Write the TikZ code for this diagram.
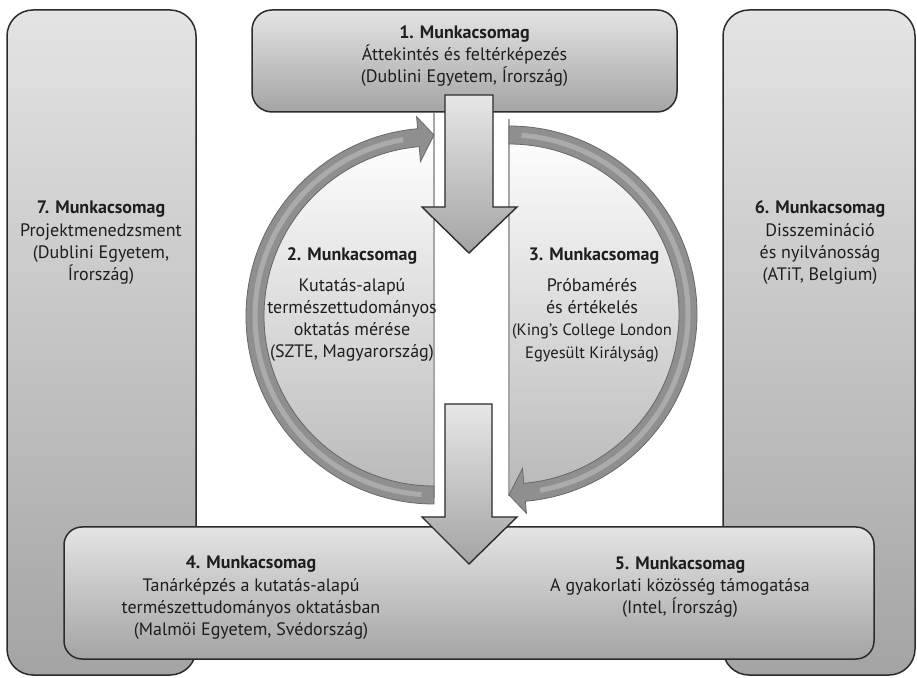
\documentclass[tikz,border=0pt]{standalone}
\usepackage{fontspec}
\setmainfont{PT Sans}
\usetikzlibrary{calc}
\definecolor{edge}{HTML}{2B2B2B}
\definecolor{boxtop}{HTML}{E4E4E4}
\definecolor{boxbot}{HTML}{A4A4A4}
\definecolor{arcfill}{HTML}{8F8F8F}
\definecolor{arcedge}{HTML}{686868}
\definecolor{archi}{HTML}{B8B8B8}
\definecolor{diskbot}{HTML}{B8B8B8}
\definecolor{txt}{HTML}{1E1E1E}
\tikzset{
  wpbox/.style={draw=edge, line width=1.5pt, top color=boxtop, bottom color=boxbot, rounded corners=#1},
  wpbox/.default=22pt,
  bigarrow/.style={draw=edge, line width=1.4pt, line join=miter, top color=boxtop!90!white, bottom color=boxbot},
  ringarrow/.style={fill=arcfill, draw=arcedge, line width=0.8pt},
  halfdisk/.style={top color=white, bottom color=diskbot},
  flatedge/.style={draw=gray!70, line width=1.3pt},
  lbl/.style={align=center, inner sep=0pt, text=txt, font=\fontsize{18}{22.3}\selectfont},
  ttl/.style={align=center, inner sep=0pt, text=txt, font=\fontsize{18}{22.3}\selectfont\bfseries}
}
\begin{document}
\begin{tikzpicture}[x=1pt,y=1pt]
\useasboundingbox (0,0) rectangle (917,677);
\fill[white] (0,0) rectangle (917,677);
% side boxes
\path[wpbox=26pt] (7,2) rectangle (196,667);
\path[wpbox=26pt] (723,2) rectangle (915,667);
% centres of the circle halves
\coordinate (CL) at (434,361);
\coordinate (CR) at (509,363);
% half disks
\path[halfdisk] ($(CL)+(90:182)$) arc[start angle=90,end angle=270,radius=182] -- cycle;
\path[halfdisk] ($(CR)+(90:182)$) arc[start angle=90,end angle=-90,radius=182] -- cycle;
\draw[flatedge] (434,564) -- ($(CL)+(270:182)$);
\draw[flatedge] (509,558) -- ($(CR)+(-90:182)$);
% ring arrows
\path[ringarrow] ($(CL)+(270:188)$) arc[start angle=270,end angle=95,radius=188]
  -- ($(CL)+(95:200)$) -- ($(CL)+(90:181)$) -- ($(CL)+(95:155)$) -- ($(CL)+(95:170)$)
  arc[start angle=95,end angle=270,radius=170] -- cycle;
\draw[archi, line width=5pt, opacity=0.7] ($(CL)+(266:179)$) arc[start angle=266,end angle=100,radius=179];
\path[ringarrow] ($(CR)+(90:188)$) arc[start angle=90,end angle=-85,radius=188]
  -- ($(CR)+(-85:200)$) -- ($(CR)+(-90:181)$) -- ($(CR)+(-85:155)$) -- ($(CR)+(-85:170)$)
  arc[start angle=-85,end angle=90,radius=170] -- cycle;
\draw[archi, line width=5pt, opacity=0.7] ($(CR)+(86:179)$) arc[start angle=86,end angle=-80,radius=179];
% top box
\path[wpbox=20pt] (252,565) rectangle (677,667);
% top arrow
\path[bigarrow] (445,582) -- (493,582) -- (493,470) -- (517,470) -- (469,424) -- (422,470) -- (445,470) -- cycle;
% bottom box
\path[wpbox=18pt] (64,18) rectangle (874,150);
% bottom arrow
\path[bigarrow] (445,273) -- (492,273) -- (492,160) -- (517,160) -- (469,113) -- (422,160) -- (445,160) -- cycle;
% texts
\node[lbl] (wp1) at (464.5,621) {\textbf{1. Munkacsomag}\\Áttekintés és feltérképezés\\(Dublini Egyetem, Írország)};
\node[lbl] (wp7) at (101,434) {\textbf{7. Munkacsomag}\\Projektmenedzsment\\(Dublini Egyetem,\\Írország)};
\node[lbl] (wp6) at (820,434) {\textbf{6. Munkacsomag}\\Disszemináció\\és nyilvánosság\\(ATiT, Belgium)};
\node[ttl] (wp2t) at (352,421) {2. Munkacsomag};
\node[lbl] (wp2) at (352,357) {Kutatás-alapú\\természettudományos\\oktatás mérése\\(SZTE, Magyarország)};
\node[ttl] (wp3t) at (594,421) {3. Munkacsomag};
\node[lbl] (wp3) at (592,357) {Próbamérés\\és értékelés\\{\fontsize{16.5}{22.3}\selectfont(King’s College London}\\{\fontsize{16.5}{22.3}\selectfont Egyesült Királyság)}};
\node[lbl] (wp4) at (251,79) {\textbf{4. Munkacsomag}\\Tanárképzés a kutatás-alapú\\természettudományos oktatásban\\(Malmöi Egyetem, Svédország)};
\node[lbl] (wp5) at (680,90) {\textbf{5. Munkacsomag}\\A gyakorlati közösség támogatása\\(Intel, Írország)};
\end{tikzpicture}
\end{document}
